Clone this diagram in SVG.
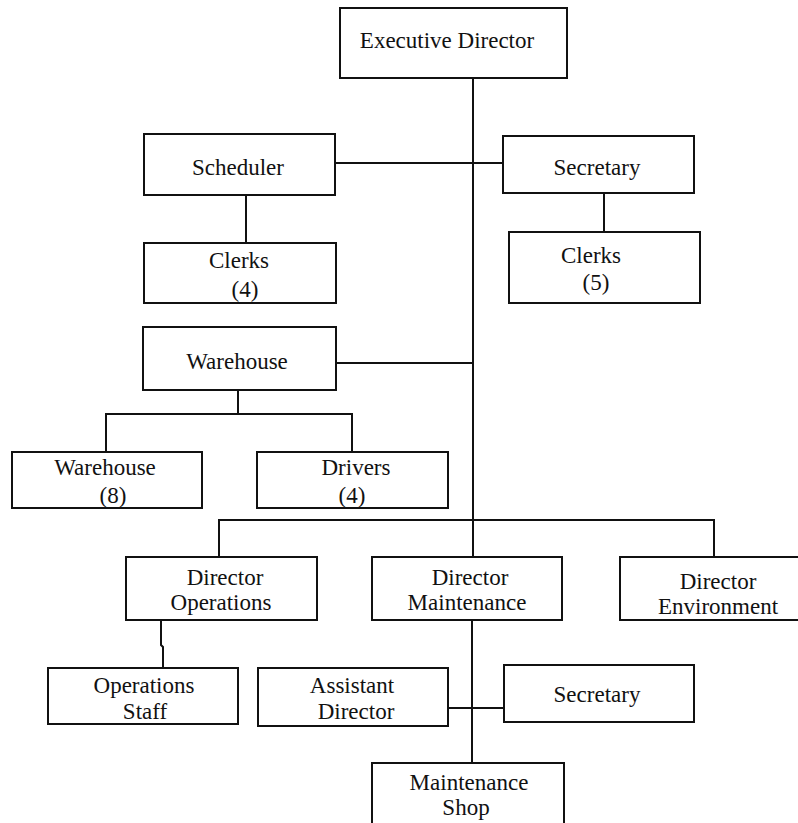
<svg xmlns="http://www.w3.org/2000/svg" width="798" height="823" viewBox="0 0 798 823">
<style>
.box{fill:#fff;stroke:#111;stroke-width:2}
.ln{fill:none;stroke:#111;stroke-width:2}
text{font-family:"Liberation Serif","Times New Roman",serif;font-size:23px;fill:#111;text-anchor:middle}
</style>
<rect width="798" height="823" fill="#fff"/>
<g id="connectors">
<line class="ln" x1="473" y1="78" x2="473" y2="557"/>
<line class="ln" x1="335" y1="163" x2="503" y2="163"/>
<line class="ln" x1="246" y1="195" x2="246" y2="243"/>
<line class="ln" x1="604" y1="193" x2="604" y2="232"/>
<line class="ln" x1="336" y1="363" x2="473" y2="363"/>
<line class="ln" x1="238" y1="390" x2="238" y2="414"/>
<polyline class="ln" points="106,452 106,414 352,414 352,452"/>
<polyline class="ln" points="219,557 219,520 714,520 714,557"/>
<polyline class="ln" points="161,620 161,645 163,647 163,668"/>
<line class="ln" x1="472" y1="620" x2="472" y2="763"/>
<line class="ln" x1="448" y1="708" x2="504" y2="708"/>
</g>
<g id="executive-director"><rect class="box" x="340" y="8" width="227" height="70"/><text x="447" y="48">Executive Director</text></g>
<g id="scheduler"><rect class="box" x="144" y="134" width="191" height="61"/><text x="238" y="175">Scheduler</text></g>
<g id="secretary-top"><rect class="box" x="503" y="136" width="191" height="57"/><text x="597" y="175">Secretary</text></g>
<g id="clerks-4"><rect class="box" x="144" y="243" width="192" height="60"/><text x="239" y="268">Clerks</text><text x="245" y="297">(4)</text></g>
<g id="clerks-5"><rect class="box" x="509" y="232" width="191" height="71"/><text x="591" y="263">Clerks</text><text x="596" y="290">(5)</text></g>
<g id="warehouse"><rect class="box" x="143" y="327" width="193" height="63"/><text x="237" y="369">Warehouse</text></g>
<g id="warehouse-8"><rect class="box" x="12" y="452" width="190" height="56"/><text x="105" y="475">Warehouse</text><text x="113" y="503">(8)</text></g>
<g id="drivers-4"><rect class="box" x="257" y="452" width="191" height="56"/><text x="356" y="475">Drivers</text><text x="352" y="503">(4)</text></g>
<g id="director-operations"><rect class="box" x="126" y="557" width="191" height="63"/><text x="225" y="585">Director</text><text x="221" y="610">Operations</text></g>
<g id="director-maintenance"><rect class="box" x="372" y="557" width="190" height="63"/><text x="470" y="585">Director</text><text x="467" y="610">Maintenance</text></g>
<g id="director-environment"><rect class="box" x="620" y="557" width="190" height="63"/><text x="718" y="589">Director</text><text x="718" y="614">Environment</text></g>
<g id="operations-staff"><rect class="box" x="48" y="668" width="190" height="56"/><text x="144" y="693">Operations</text><text x="145" y="719">Staff</text></g>
<g id="assistant-director"><rect class="box" x="258" y="668" width="190" height="58"/><text x="352" y="693">Assistant</text><text x="356" y="719">Director</text></g>
<g id="secretary-bottom"><rect class="box" x="504" y="665" width="190" height="57"/><text x="597" y="702">Secretary</text></g>
<g id="maintenance-shop"><rect class="box" x="372" y="763" width="192" height="70"/><text x="469" y="790">Maintenance</text><text x="466" y="815">Shop</text></g>
</svg>
